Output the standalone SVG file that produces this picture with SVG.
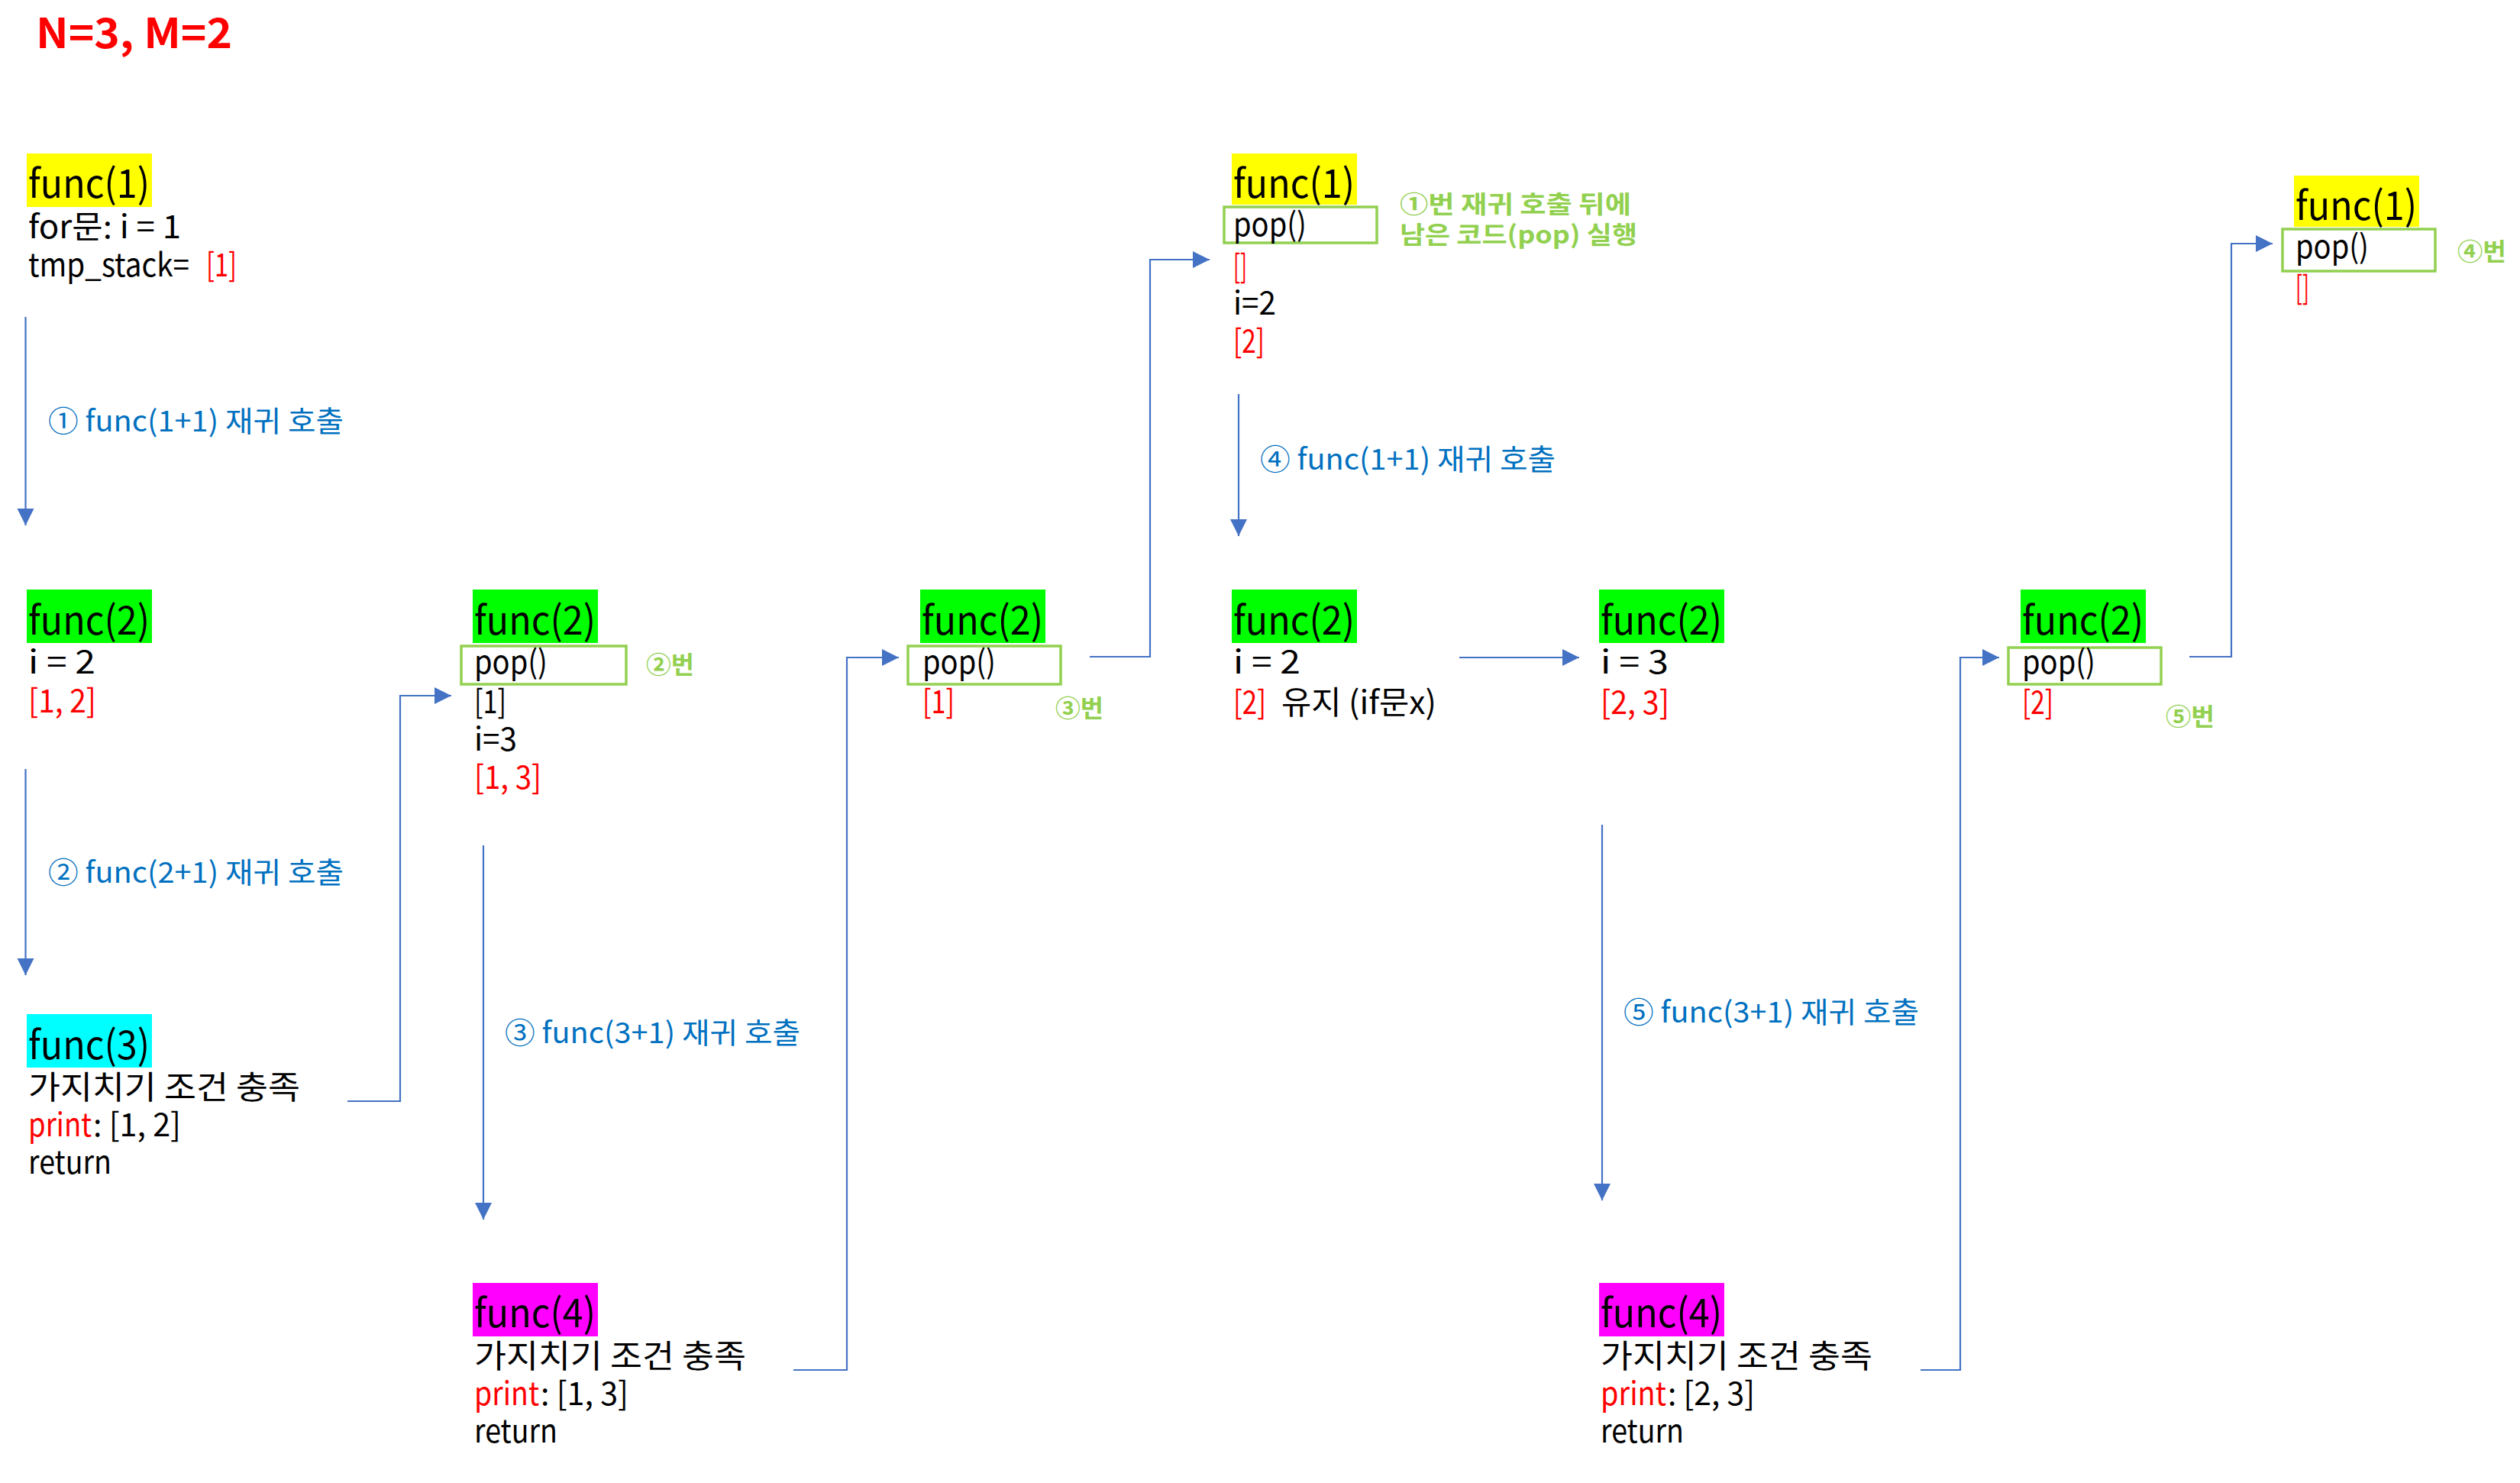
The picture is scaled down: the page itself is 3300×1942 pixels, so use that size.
<svg xmlns="http://www.w3.org/2000/svg" width="3300" height="1942" viewBox="0 0 3300 1942">
<defs>
<style>
text { font-family: "Noto Sans CJK KR", "Noto Sans", sans-serif; }
.fn { font-size: 52px; fill: #000; }
.b { font-size: 42px; fill: #000; }
.r { fill: #FF0000; }
.lbl { font-size: 38px; fill: #0070C0; }
.g { font-size: 32px; font-weight: bold; fill: #92D050; }
.box { fill: none; stroke: #92D050; stroke-width: 3.5; }
.conn { fill: none; stroke: #4472C4; stroke-width: 2.2; }
.hy { fill: #FFFF00; }
.hg { fill: #00FF00; }
.hc { fill: #00FFFF; }
.hm { fill: #FF00FF; }
</style>
<marker id="ah" markerUnits="userSpaceOnUse" markerWidth="24" markerHeight="24" refX="22" refY="11" orient="auto">
<path d="M0,0 L22,11 L0,22 z" fill="#4472C4"/>
</marker>
</defs>
<rect width="3300" height="1942" fill="#FFFFFF"/>

<text x="47" y="63" font-size="54" font-weight="bold" fill="#FF0000" textLength="257" lengthAdjust="spacingAndGlyphs">N=3, M=2</text>

<g id="connectors">
<path class="conn" marker-end="url(#ah)" d="M33.5,415 V688"/>
<path class="conn" marker-end="url(#ah)" d="M33.5,1007 V1277"/>
<path class="conn" marker-end="url(#ah)" d="M633,1107 V1597"/>
<path class="conn" marker-end="url(#ah)" d="M1622,516 V702"/>
<path class="conn" marker-end="url(#ah)" d="M2098,1080 V1572"/>
<path class="conn" marker-end="url(#ah)" d="M455,1442 H524 V911 H591"/>
<path class="conn" marker-end="url(#ah)" d="M1039,1794 H1109 V861 H1177"/>
<path class="conn" marker-end="url(#ah)" d="M1427,860 H1506 V340 H1584"/>
<path class="conn" marker-end="url(#ah)" d="M1911,861 H2068"/>
<path class="conn" marker-end="url(#ah)" d="M2515,1794 H2567 V861 H2618"/>
<path class="conn" marker-end="url(#ah)" d="M2867,860 H2922 V319 H2976"/>
<text class="lbl" x="63" y="565" textLength="387" lengthAdjust="spacingAndGlyphs">① func(1+1) 재귀 호출</text>
<text class="lbl" x="63" y="1156" textLength="387" lengthAdjust="spacingAndGlyphs">② func(2+1) 재귀 호출</text>
<text class="lbl" x="661" y="1366" textLength="387" lengthAdjust="spacingAndGlyphs">③ func(3+1) 재귀 호출</text>
<text class="lbl" x="1650" y="615" textLength="387" lengthAdjust="spacingAndGlyphs">④ func(1+1) 재귀 호출</text>
<text class="lbl" x="2126" y="1339" textLength="387" lengthAdjust="spacingAndGlyphs">⑤ func(3+1) 재귀 호출</text>
</g>

<g id="node-func1-a">
<rect class="hy" x="35" y="201" width="164" height="70"/>
<text class="fn" x="37" y="259" textLength="159" lengthAdjust="spacingAndGlyphs">func(1)</text>
<text class="b" x="37" y="312" textLength="200" lengthAdjust="spacingAndGlyphs">for문: i = 1</text>
<text class="b" x="37" y="362" textLength="211" lengthAdjust="spacingAndGlyphs">tmp_stack=</text>
<text class="b r" x="270" y="362" textLength="40" lengthAdjust="spacingAndGlyphs">[1]</text>
</g>

<g id="node-func2-a">
<rect class="hg" x="35" y="772" width="164" height="70"/>
<text class="fn" x="37" y="831" textLength="159" lengthAdjust="spacingAndGlyphs">func(2)</text>
<text class="b" x="37" y="882" textLength="88" lengthAdjust="spacingAndGlyphs">i = 2</text>
<text class="b r" x="37" y="933" textLength="89" lengthAdjust="spacingAndGlyphs">[1, 2]</text>
</g>

<g id="node-func3">
<rect class="hc" x="35" y="1328" width="164" height="70"/>
<text class="fn" x="37" y="1387" textLength="159" lengthAdjust="spacingAndGlyphs">func(3)</text>
<text class="b" x="37" y="1439" textLength="356" lengthAdjust="spacingAndGlyphs">가지치기 조건 충족</text>
<text class="b r" x="37" y="1488" textLength="83" lengthAdjust="spacingAndGlyphs">print</text>
<text class="b" x="122" y="1488" textLength="115" lengthAdjust="spacingAndGlyphs">: [1, 2]</text>
<text class="b" x="37" y="1537" textLength="109" lengthAdjust="spacingAndGlyphs">return</text>
</g>

<g id="node-func2-b">
<rect class="hg" x="619" y="772" width="164" height="70"/>
<text class="fn" x="621" y="831" textLength="159" lengthAdjust="spacingAndGlyphs">func(2)</text>
<rect class="box" x="604" y="846" width="216" height="50"/>
<text class="b" x="621" y="882" textLength="96" lengthAdjust="spacingAndGlyphs">pop()</text>
<text class="g" x="846" y="882" textLength="63" lengthAdjust="spacingAndGlyphs">②번</text>
<text class="b" x="621" y="934" textLength="42" lengthAdjust="spacingAndGlyphs">[1]</text>
<text class="b" x="621" y="983" textLength="56" lengthAdjust="spacingAndGlyphs">i=3</text>
<text class="b r" x="621" y="1033" textLength="88" lengthAdjust="spacingAndGlyphs">[1, 3]</text>
</g>

<g id="node-func4-a">
<rect class="hm" x="619" y="1680" width="164" height="70"/>
<text class="fn" x="621" y="1738" textLength="159" lengthAdjust="spacingAndGlyphs">func(4)</text>
<text class="b" x="621" y="1791" textLength="356" lengthAdjust="spacingAndGlyphs">가지치기 조건 충족</text>
<text class="b r" x="621" y="1840" textLength="85" lengthAdjust="spacingAndGlyphs">print</text>
<text class="b" x="708" y="1840" textLength="115" lengthAdjust="spacingAndGlyphs">: [1, 3]</text>
<text class="b" x="621" y="1889" textLength="109" lengthAdjust="spacingAndGlyphs">return</text>
</g>

<g id="node-func2-c">
<rect class="hg" x="1205" y="772" width="164" height="70"/>
<text class="fn" x="1207" y="831" textLength="159" lengthAdjust="spacingAndGlyphs">func(2)</text>
<rect class="box" x="1189" y="846" width="200" height="50"/>
<text class="b" x="1208" y="882" textLength="96" lengthAdjust="spacingAndGlyphs">pop()</text>
<text class="b r" x="1208" y="934" textLength="42" lengthAdjust="spacingAndGlyphs">[1]</text>
<text class="g" x="1382" y="939" textLength="63" lengthAdjust="spacingAndGlyphs">③번</text>
</g>

<g id="node-func1-b">
<rect class="hy" x="1613" y="201" width="164" height="67"/>
<text class="fn" x="1615" y="259" textLength="159" lengthAdjust="spacingAndGlyphs">func(1)</text>
<rect class="box" x="1603" y="271" width="200" height="47"/>
<text class="b" x="1615" y="309" textLength="96" lengthAdjust="spacingAndGlyphs">pop()</text>
<text class="b r" x="1615" y="364" textLength="18" lengthAdjust="spacingAndGlyphs">[]</text>
<text class="b" x="1615" y="412" textLength="56" lengthAdjust="spacingAndGlyphs">i=2</text>
<text class="b r" x="1615" y="462" textLength="41" lengthAdjust="spacingAndGlyphs">[2]</text>
<text class="g" x="1833" y="279" textLength="303" lengthAdjust="spacingAndGlyphs">①번 재귀 호출 뒤에</text>
<text class="g" x="1833" y="319" textLength="311" lengthAdjust="spacingAndGlyphs">남은 코드(pop) 실행</text>
</g>

<g id="node-func2-d">
<rect class="hg" x="1613" y="772" width="164" height="70"/>
<text class="fn" x="1615" y="831" textLength="159" lengthAdjust="spacingAndGlyphs">func(2)</text>
<text class="b" x="1615" y="882" textLength="88" lengthAdjust="spacingAndGlyphs">i = 2</text>
<text class="b r" x="1615" y="935" textLength="43" lengthAdjust="spacingAndGlyphs">[2]</text>
<text class="b" x="1678" y="935" textLength="203" lengthAdjust="spacingAndGlyphs">유지 (if문x)</text>
</g>

<g id="node-func2-e">
<rect class="hg" x="2094" y="772" width="164" height="70"/>
<text class="fn" x="2096" y="831" textLength="159" lengthAdjust="spacingAndGlyphs">func(2)</text>
<text class="b" x="2096" y="882" textLength="89" lengthAdjust="spacingAndGlyphs">i = 3</text>
<text class="b r" x="2096" y="935" textLength="90" lengthAdjust="spacingAndGlyphs">[2, 3]</text>
</g>

<g id="node-func4-b">
<rect class="hm" x="2094" y="1680" width="164" height="70"/>
<text class="fn" x="2096" y="1738" textLength="159" lengthAdjust="spacingAndGlyphs">func(4)</text>
<text class="b" x="2096" y="1791" textLength="356" lengthAdjust="spacingAndGlyphs">가지치기 조건 충족</text>
<text class="b r" x="2096" y="1840" textLength="86" lengthAdjust="spacingAndGlyphs">print</text>
<text class="b" x="2184" y="1840" textLength="114" lengthAdjust="spacingAndGlyphs">: [2, 3]</text>
<text class="b" x="2096" y="1889" textLength="109" lengthAdjust="spacingAndGlyphs">return</text>
</g>

<g id="node-func2-f">
<rect class="hg" x="2646" y="772" width="164" height="70"/>
<text class="fn" x="2648" y="831" textLength="159" lengthAdjust="spacingAndGlyphs">func(2)</text>
<rect class="box" x="2630" y="848" width="200" height="48"/>
<text class="b" x="2648" y="882" textLength="96" lengthAdjust="spacingAndGlyphs">pop()</text>
<text class="b r" x="2648" y="935" textLength="41" lengthAdjust="spacingAndGlyphs">[2]</text>
<text class="g" x="2836" y="950" textLength="64" lengthAdjust="spacingAndGlyphs">⑤번</text>
</g>

<g id="node-func1-c">
<rect class="hy" x="3004" y="230" width="164" height="67"/>
<text class="fn" x="3006" y="288" textLength="159" lengthAdjust="spacingAndGlyphs">func(1)</text>
<rect class="box" x="2989" y="300" width="200" height="55"/>
<text class="b" x="3006" y="338" textLength="96" lengthAdjust="spacingAndGlyphs">pop()</text>
<text class="b r" x="3006" y="392" textLength="18" lengthAdjust="spacingAndGlyphs">[]</text>
<text class="g" x="3218" y="341" textLength="64" lengthAdjust="spacingAndGlyphs">④번</text>
</g>
</svg>
